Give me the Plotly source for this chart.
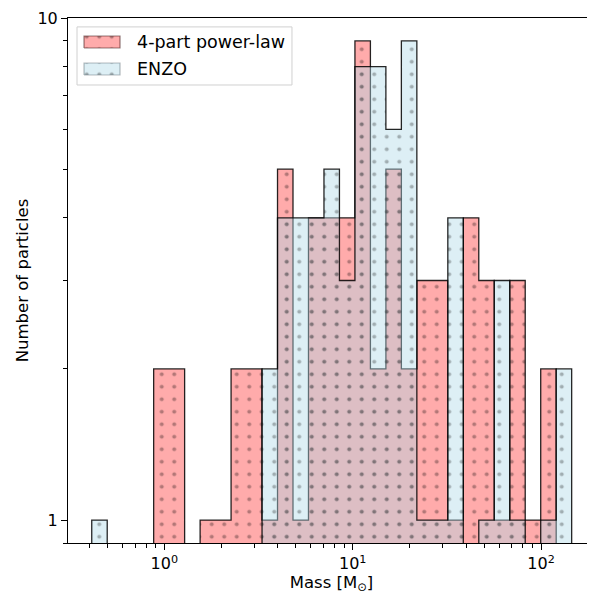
import numpy as np
import plotly.graph_objects as go

# ---- data ----
bin_min = 0.412      # lowest bin edge [M_sun]
bin_max = 145.3      # highest bin edge [M_sun]
n_bins = 31          # log-spaced bins
powerlaw_counts = [0, 0, 0, 0, 2, 2, 0, 1, 1, 2, 2,
                   1, 5, 1, 4, 4, 4, 9, 2, 5, 2,
                   3, 3, 1, 4, 3, 1, 3, 1, 2, 0]
enzo_counts = [1, 0, 0, 0, 0, 0, 0, 0, 0, 0, 0,
               2, 4, 4, 4, 5, 3, 8, 8, 6, 9,
               1, 1, 4, 0, 1, 3, 1, 0, 1, 2]
series_names = ["4-part power-law", "ENZO"]
x_major_vals = [1, 10, 100]
x_major_text = ["10<sup>0</sup>", "10<sup>1</sup>", "10<sup>2</sup>"]
y_major_vals = [1, 10]
y_major_text = ["1", "10"]

edges = np.logspace(np.log10(bin_min), np.log10(bin_max), n_bins + 1)


def step_polygon(edges, counts, base=0.5):
    xs = [edges[0]]
    ys = [base]
    for i, c in enumerate(counts):
        v = c if c > 0 else base
        xs += [edges[i], edges[i + 1]]
        ys += [v, v]
    xs.append(edges[-1])
    ys.append(base)
    return xs, ys


FONT = "DejaVu Sans"
fig = go.Figure()

styles = [
    dict(fill="rgba(255,0,0,0.33)", dots="rgba(0,0,0,0.6)", key_edge="rgba(60,20,20,0.55)"),
    dict(fill="rgba(173,216,230,0.42)", dots="rgba(0,0,0,0.55)", key_edge="rgba(40,60,70,0.35)"),
]
for name, counts, st in zip(series_names, [powerlaw_counts, enzo_counts], styles):
    xs, ys = step_polygon(edges, counts)
    fig.add_trace(go.Scatter(
        x=xs, y=ys, mode="none", name=name, showlegend=False,
        fill="toself", fillcolor=st["fill"],
        fillpattern=dict(shape=".", size=12.5, solidity=0.08,
                         fgcolor=st["dots"], bgcolor=st["fill"]),
        hoverinfo="skip",
    ))
    fig.add_trace(go.Scatter(
        x=xs, y=ys, mode="lines", showlegend=False,
        line=dict(color="rgba(0,0,0,0.85)", width=1.3),
        hoverinfo="skip",
    ))

# ---- hand-drawn legend (matplotlib style) on an overlay axis in [0, 1] ----
def rect(x0, x1, y0, y1):
    return [x0, x1, x1, x0, x0], [y0, y0, y1, y1, y0]

bx, by = rect(0.0171, 0.425, 0.8724, 0.983)
fig.add_trace(go.Scatter(
    x=bx, y=by, xaxis="x2", yaxis="y2", mode="lines", fill="toself",
    fillcolor="rgba(255,255,255,0.85)", line=dict(color="#d0d0d0", width=1),
    showlegend=False, hoverinfo="skip"))
key_rows = [(0.9429, 0.9657), (0.8914, 0.9143)]
for name, st, (k0, k1) in zip(series_names, styles, key_rows):
    kx, ky = rect(0.0304, 0.0987, k0, k1)
    fig.add_trace(go.Scatter(
        x=kx, y=ky, xaxis="x2", yaxis="y2", mode="lines", fill="toself",
        fillcolor=st["fill"],
        fillpattern=dict(shape=".", size=12.5, solidity=0.08,
                         fgcolor=st["dots"], bgcolor=st["fill"]),
        line=dict(color=st["key_edge"], width=1.2),
        showlegend=False, hoverinfo="skip"))
    fig.add_annotation(x=0.1271, y=(k0 + k1) / 2, xref="x2", yref="y2",
                       text=name, showarrow=False, xanchor="left", yanchor="middle",
                       font=dict(family=FONT, size=17.5, color="black"))

minor_x = [0.4, 0.5, 0.6, 0.7, 0.8, 0.9,
           2, 3, 4, 5, 6, 7, 8, 9,
           20, 30, 40, 50, 60, 70, 80, 90]
minor_y = [0.9, 2, 3, 4, 5, 6, 7, 8, 9]

# the page adds an 8 px body margin, so the figure is 8 px smaller
fig.update_layout(
    width=587, height=586,
    margin=dict(l=60, r=0, t=10, b=51, autoexpand=False),
    paper_bgcolor="white", plot_bgcolor="white",
    font=dict(family=FONT, size=16, color="black"),
    showlegend=False,
    xaxis=dict(
        type="log", range=[-0.5111, 2.2861], automargin=False,
        showline=True, linecolor="black", linewidth=1.1, mirror=True,
        showgrid=False, zeroline=False,
        ticks="outside", ticklen=6, tickwidth=1, tickcolor="black",
        tickmode="array", tickvals=x_major_vals, ticktext=x_major_text,
        tickfont=dict(family=FONT, size=16),
        minor=dict(tickmode="array", tickvals=minor_x, ticks="outside",
                   ticklen=3.5, tickwidth=0.8, tickcolor="black", showgrid=False),
        title=dict(text="Mass [M<sub>⊙</sub>]", font=dict(family=FONT, size=16.5),
                   standoff=4),
    ),
    yaxis=dict(
        type="log", range=[np.log10(0.9), 1.0], automargin=False,
        showline=True, linecolor="black", linewidth=1.1, mirror=False,
        showgrid=False, zeroline=False,
        ticks="outside", ticklen=6, tickwidth=1, tickcolor="black",
        tickmode="array", tickvals=y_major_vals, ticktext=y_major_text,
        tickfont=dict(family=FONT, size=16),
        minor=dict(tickmode="array", tickvals=minor_y, ticks="outside",
                   ticklen=3.5, tickwidth=0.8, tickcolor="black", showgrid=False),
        title=dict(text="Number of particles", font=dict(family=FONT, size=16.5),
                   standoff=4),
    ),
    xaxis2=dict(overlaying="x", range=[0, 1], visible=False, fixedrange=True),
    yaxis2=dict(overlaying="y", range=[0, 1], visible=False, fixedrange=True),
)

fig.write_html("out.html")
